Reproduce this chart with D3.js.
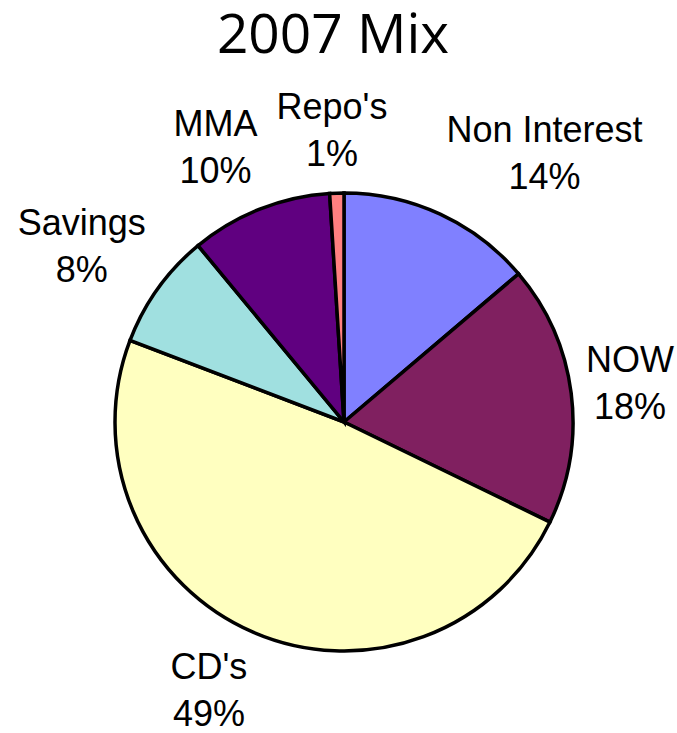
<!DOCTYPE html>
<html>
<head>
<meta charset="utf-8">
<script src="https://cdn.jsdelivr.net/npm/d3@7"></script>
<style>
  body { margin: 0; background: #fff; }
</style>
</head>
<body>
<script>
// chart data, clockwise from 12 o'clock
const categories = ["Non Interest", "NOW", "CD's", "Savings", "MMA", "Repo's"];
const shares = [13.8, 18.4, 48.6, 8.2, 10.0, 1.0];
const sliceColors = ["#8080FF", "#802060", "#FFFFC0", "#A0E0E0", "#600080", "#FF8080"];
const title = "2007 Mix";

// SVG size
var width = 677;
var height = 733;

// pie geometry
var cx = 344, cy = 422, radius = 229;

var svg = d3.select("body").append("svg")
    .attr("width", width)
    .attr("height", height);

// title
svg.append("text")
  .attr("x", 333)
  .attr("y", 53)
  .attr("text-anchor", "middle")
  .style("font-family", "'Open Sans', sans-serif")
  .style("font-size", "55px")
  .text(title);

var data = categories.map((c, i) => ({ name: c, value: shares[i], color: sliceColors[i] }));

var pie = d3.pie()
  .sort(null)
  .value(d => d.value);

var arc = d3.arc()
  .innerRadius(0)
  .outerRadius(radius);

var arcs = pie(data);

var g = svg.append("g")
  .attr("transform", `translate(${cx},${cy})`);

g.selectAll("path.slice")
  .data(arcs)
  .enter()
  .append("path")
  .attr("class", "slice")
  .attr("d", arc)
  .attr("fill", d => d.data.color)
  .attr("stroke", "#000")
  .attr("stroke-width", 3.5);

// labels: excel-like placement, box pushed out from an anchor just outside the rim
var labelR = 244;
var lineGap = 47;

var labels = g.selectAll("text.label")
  .data(arcs)
  .enter()
  .append("text")
  .attr("class", "label")
  .attr("text-anchor", "middle")
  .style("font-family", "'Liberation Sans', Arial, sans-serif")
  .style("font-size", "36px")
  .attr("fill", "#000");

labels.append("tspan").attr("x", 0).attr("dy", 0).text(d => d.data.name);
labels.append("tspan").attr("x", 0).attr("dy", lineGap).text(d => Math.round(d.data.value) + "%");

labels.each(function(d) {
  const t = d3.select(this);
  const w = this.getBBox().width;
  const h = 92;
  const mid = (d.startAngle + d.endAngle) / 2;
  const ax = labelR * Math.sin(mid);
  const ay = -labelR * Math.cos(mid);
  const u = Math.max(-1, Math.min(1, 2.5 * Math.sin(mid)));
  const v = Math.max(-1, Math.min(1, 1.2 * Math.cos(mid)));
  const centerX = ax + u * w / 2;
  const centerY = ay - v * h / 2;
  const top = centerY - h / 2;
  t.attr("transform", `translate(${centerX},${top + 33})`);
});
</script>
</body>
</html>
